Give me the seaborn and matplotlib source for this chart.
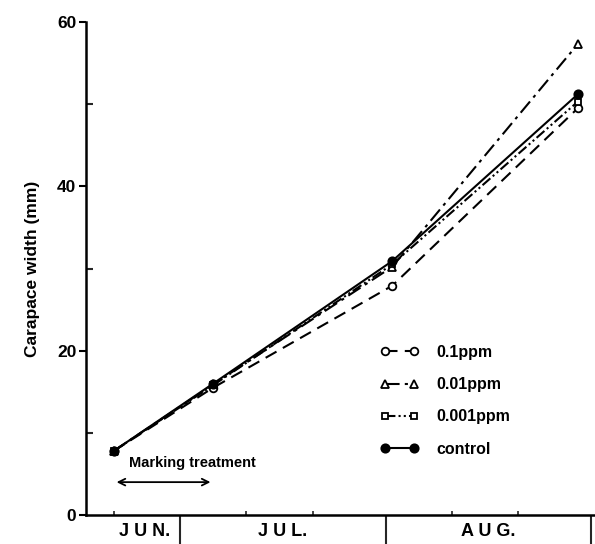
import matplotlib
matplotlib.use("Agg")
import matplotlib.pyplot as plt
from matplotlib.lines import Line2D
import pandas as pd
import seaborn as sns

# sampling dates, in days counted from June 1
days = [20, 35, 62, 90]

# carapace width (mm) per treatment
w_01ppm = [7.8, 15.5, 27.9, 49.5]
w_001ppm = [7.8, 15.9, 30.2, 57.3]
w_0001ppm = [7.8, 15.8, 30.5, 50.3]
w_control = [7.8, 16.0, 30.9, 51.2]

labels = ["0.1ppm", "0.01ppm", "0.001ppm", "control"]
month_names = ["J U N.", "J U L.", "A U G."]
month_label_pos = [24.7, 45.5, 76.5]
month_edges = [30, 61, 92]
minor_days = [20, 40, 50, 71, 81]

sns.set_theme(style="ticks")
plt.rcParams["font.family"] = ["Liberation Sans", "DejaVu Sans"]
plt.rcParams["font.weight"] = "bold"
plt.rcParams["text.color"] = "black"
plt.rcParams["axes.labelcolor"] = "black"

fig = plt.figure(figsize=(5.95, 5.44), dpi=100)
ax = fig.add_axes([86 / 595, 1 - 515 / 544, 1 - 86 / 595, (515 - 22) / 544])

series = [w_01ppm, w_001ppm, w_0001ppm, w_control]
styles = [
    dict(marker="o", mfc="white", markersize=5.5, linestyle=(0, (6, 3.5))),
    dict(marker="^", mfc="white", markersize=5.5, linestyle=(0, (7, 2.5, 1.5, 2.5))),
    dict(marker="s", mfc="white", markersize=4.5, linestyle=(0, (5, 1.5, 1, 1.5, 1, 1.5))),
    dict(marker="o", mfc="black", markersize=6, linestyle="-"),
]

for vals, lab, st in zip(series, labels, styles):
    df = pd.DataFrame({"day": days, "width": vals})
    sns.lineplot(data=df, x="day", y="width", ax=ax, color="black", lw=1.5,
                 mec="black", mew=1.3, **st)

ax.set_xlim(15.8, 92.6)
ax.set_ylim(0, 60)
sns.despine(ax=ax)
for s in ["left", "bottom"]:
    ax.spines[s].set_linewidth(1.8)
    ax.spines[s].set_color("black")

ax.set_yticks([0, 20, 40, 60])
ax.set_yticks([10, 30, 50], minor=True)
ax.tick_params(axis="y", which="major", direction="out", length=5, width=1.5,
               labelsize=12.5, colors="black", pad=2)
ax.tick_params(axis="y", which="minor", direction="in", length=5, width=1.5)

ax.set_xticks(month_edges)
ax.set_xticklabels([])
ax.set_xticks(minor_days, minor=True)
ax.tick_params(axis="x", which="major", direction="out", length=22, width=1.5)
ax.tick_params(axis="x", which="minor", direction="in", length=3, width=1.2)
for pos, name in zip(month_label_pos, month_names):
    ax.text(pos, -2.0, name, ha="center", va="center", fontsize=13,
            fontweight="bold")

ax.set_xlabel("")
ax.set_ylabel("Carapace width (mm)", fontsize=12.5, fontweight="bold",
              labelpad=12)
for t in ax.get_yticklabels():
    t.set_fontweight("bold")

# marking treatment period
ax.annotate("", xy=(20, 4.0), xytext=(35, 4.0),
            arrowprops=dict(arrowstyle="<->", color="black", lw=1.3))
ax.text(22.3, 6.3, "Marking treatment", fontsize=10.5, fontweight="bold",
        va="center", ha="left")

handles = [Line2D([0], [0], color="black", lw=1.5, mec="black", mew=1.3, **st)
           for st in styles]
leg = ax.legend(handles, labels, loc="upper left", frameon=False,
                bbox_to_anchor=(380 / 595, 1 - 345 / 544),
                bbox_transform=fig.transFigure, borderpad=0, borderaxespad=0,
                numpoints=2, handlelength=2.4, handletextpad=1.1,
                labelspacing=1.08, prop=dict(weight="bold", size=11.5))

fig.savefig("out.png", dpi=100)
